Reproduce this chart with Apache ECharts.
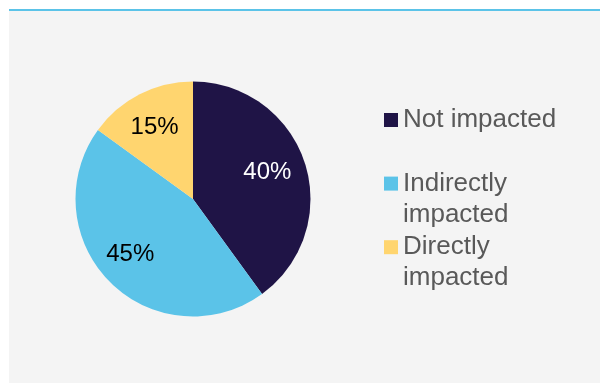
<!DOCTYPE html>
<html>
<head>
<meta charset="utf-8">
<script src="https://cdn.jsdelivr.net/npm/echarts@6/dist/echarts.min.js"></script>
<style>html,body{margin:0;padding:0;background:#fff}#c{width:600px;height:383px}</style>
</head>
<body>
<div id="c"></div>
<script>
const categories = ['Not impacted', 'Indirectly', 'Directly'];
const secondLines = ['', 'impacted', 'impacted'];
const values = [40, 45, 15];
const colors = ['#1f1446', '#5bc3e8', '#ffd56f'];
const labelColors = ['#ffffff', '#000000', '#000000'];
const labelNudges = [[-6, -1], [-3, -4], [0, 4]];

const chart = echarts.init(document.getElementById('c'), null, {renderer: 'canvas'});
const data = categories.map((c, i) => ({name: c, value: values[i], itemStyle: {color: colors[i]}}));
const FONT = 'Liberation Sans, Arial, sans-serif';
const legendTop = 104.5, legendLine = 31, legendGap = 32.6, legendFont = 26;
const graphics = [
  {type: 'rect', shape: {x: 9, y: 9, width: 591, height: 374}, style: {fill: '#f4f4f4'}, z: -10},
  {type: 'rect', shape: {x: 9, y: 9, width: 591, height: 2}, style: {fill: '#5bc3e8'}, z: -9}
];
secondLines.forEach((t, i) => {
  if (!t) return;
  const cy = legendTop + i * (legendLine + legendGap) + legendLine / 2 + legendLine;
  graphics.push({type: 'text', left: 403, top: cy - legendLine / 2,
    style: {text: t, fill: '#595959', font: legendFont + 'px ' + FONT, lineHeight: legendLine, verticalAlign: 'top'}});
});
chart.setOption({
  backgroundColor: '#ffffff',
  animation: false,
  graphic: graphics,
  legend: {
    orient: 'vertical', left: 384, top: legendTop, padding: 0,
    itemWidth: 14, itemHeight: 14, itemGap: legendGap,
    icon: 'rect', selectedMode: false,
    data: categories,
    textStyle: {fontFamily: FONT, fontSize: legendFont, color: '#595959', lineHeight: legendLine}
  },
  series: [
    {
      type: 'pie', center: [193, 199], radius: [0, 117.5], startAngle: 90, clockwise: true,
      data: data, label: {show: false}, labelLine: {show: false}, silent: true
    },
    {
      type: 'pie', center: [193, 199], radius: [0, 163], startAngle: 90, clockwise: true,
      data: categories.map((c, i) => ({name: c + ' ', value: values[i],
        label: {color: labelColors[i], offset: labelNudges[i]}})),
      itemStyle: {color: 'rgba(0,0,0,0)'}, silent: true,
      label: {show: true, position: 'inside', formatter: '{c}%', fontFamily: FONT, fontSize: 24},
      labelLine: {show: false}
    }
  ]
});
</script>
</body>
</html>
